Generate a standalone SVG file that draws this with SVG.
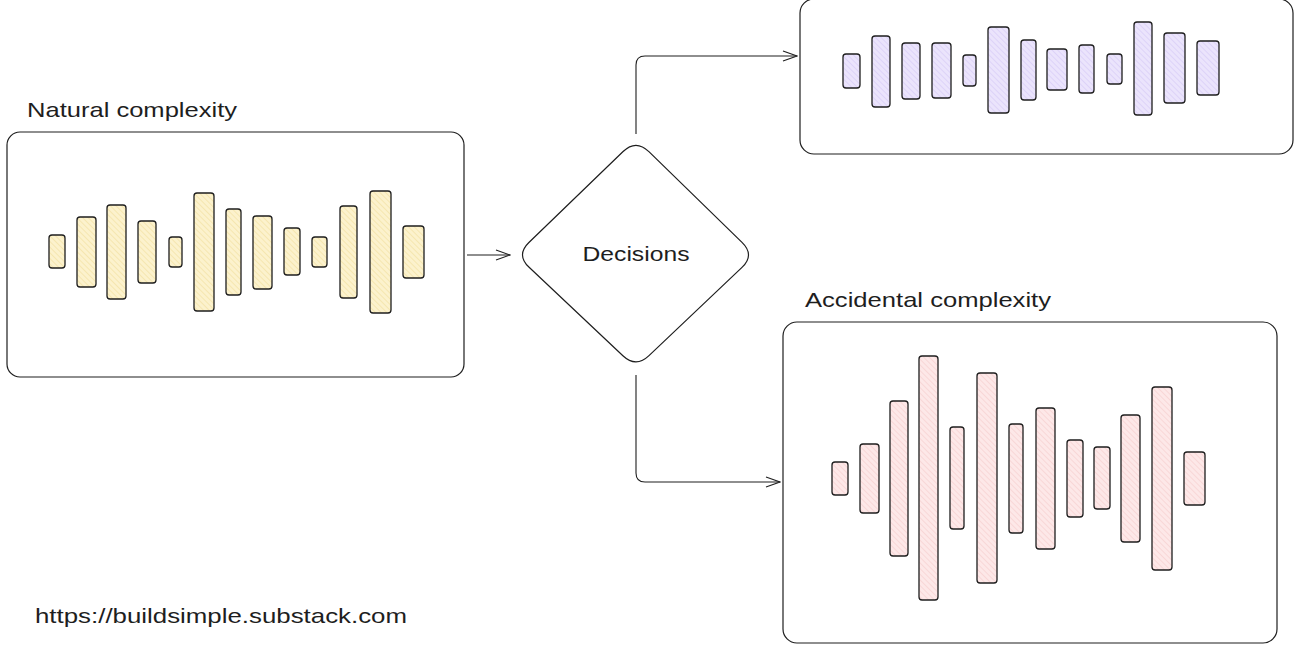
<svg xmlns="http://www.w3.org/2000/svg" width="1300" height="650" viewBox="0 0 1300 650">
<defs>
<pattern id="hy" width="4" height="4" patternUnits="userSpaceOnUse" patternTransform="rotate(-45)"><rect width="4" height="4" fill="#fcf2cd"/><line x1="0" y1="0" x2="0" y2="4" stroke="#f1df9c" stroke-width="1.2"/></pattern>
<pattern id="hp" width="4" height="4" patternUnits="userSpaceOnUse" patternTransform="rotate(-45)"><rect width="4" height="4" fill="#ebe4fc"/><line x1="0" y1="0" x2="0" y2="4" stroke="#d4c8f6" stroke-width="1.2"/></pattern>
<pattern id="hr" width="4" height="4" patternUnits="userSpaceOnUse" patternTransform="rotate(-45)"><rect width="4" height="4" fill="#fde8e8"/><line x1="0" y1="0" x2="0" y2="4" stroke="#f5cccc" stroke-width="1.2"/></pattern>
<marker id="arr" markerWidth="16" markerHeight="12" refX="15" refY="6" orient="auto" markerUnits="userSpaceOnUse"><path d="M1,1 L15,6 L1,11" fill="none" stroke="#1e1e1e" stroke-width="1.1"/></marker>
</defs>
<style>
.box{fill:#ffffff;stroke:#1e1e1e;stroke-width:1.2}
.bar{stroke:#1e1e1e;stroke-width:1.3}
.y{fill:url(#hy)}.p{fill:url(#hp)}.r{fill:url(#hr)}
.t{font-family:"Liberation Sans",Arial,sans-serif;font-size:21px;fill:#1e1e1e}
.con{fill:none;stroke:#1e1e1e;stroke-width:1.1}
</style>
<rect width="1300" height="650" fill="#ffffff"/>

<g id="natural">
<text class="t" x="27" y="117" textLength="210" lengthAdjust="spacingAndGlyphs">Natural complexity</text>
<rect class="box" x="7" y="132" width="457" height="245" rx="13"/>
<g class="bar y">
<rect x="49" y="235" width="16" height="33" rx="3"/>
<rect x="77" y="217" width="19" height="70" rx="3"/>
<rect x="107" y="205" width="19" height="94" rx="3"/>
<rect x="138" y="221" width="18" height="62" rx="3"/>
<rect x="169" y="237" width="13" height="30" rx="3"/>
<rect x="194" y="193" width="20" height="118" rx="3"/>
<rect x="226" y="209" width="15" height="86" rx="3"/>
<rect x="253" y="216" width="19" height="73" rx="3"/>
<rect x="284" y="228" width="16" height="47" rx="3"/>
<rect x="312" y="237" width="15" height="30" rx="3"/>
<rect x="340" y="206" width="17" height="92" rx="3"/>
<rect x="370" y="191" width="21" height="122" rx="3"/>
<rect x="403" y="226" width="21" height="52" rx="3"/>
</g>
</g>

<g id="decisions">
<path class="box" d="M648.9,151.6 L742,242.4 Q755,255 742,267.4 L649,355.6 Q636,368 622.9,355.7 L529.1,267.3 Q516,255 528.9,242.5 L623.1,151.5 Q636,139 648.9,151.6 Z"/>
<text class="t" x="636" y="261" text-anchor="middle" textLength="107" lengthAdjust="spacingAndGlyphs">Decisions</text>
</g>

<g id="simple">
<rect class="box" x="800" y="-1" width="493" height="155" rx="14"/>
<g class="bar p">
<rect x="843" y="54" width="17" height="34" rx="3"/>
<rect x="872" y="36" width="18" height="71" rx="3"/>
<rect x="902" y="43" width="18" height="56" rx="3"/>
<rect x="932" y="43" width="19" height="55" rx="3"/>
<rect x="963" y="55" width="13" height="31" rx="3"/>
<rect x="988" y="27" width="21" height="86" rx="3"/>
<rect x="1021" y="40" width="15" height="60" rx="3"/>
<rect x="1047" y="49" width="20" height="41" rx="3"/>
<rect x="1079" y="45" width="15" height="48" rx="3"/>
<rect x="1107" y="54" width="15" height="30" rx="3"/>
<rect x="1134" y="22" width="18" height="93" rx="3"/>
<rect x="1164" y="33" width="21" height="70" rx="3"/>
<rect x="1197" y="41" width="22" height="54" rx="3"/>
</g>
</g>

<g id="accidental">
<text class="t" x="805" y="307" textLength="246" lengthAdjust="spacingAndGlyphs">Accidental complexity</text>
<rect class="box" x="783" y="322" width="494" height="321" rx="14"/>
<g class="bar r">
<rect x="832" y="462" width="16" height="33" rx="3"/>
<rect x="860" y="444" width="19" height="69" rx="3"/>
<rect x="890" y="401" width="18" height="155" rx="3"/>
<rect x="919" y="356" width="19" height="244" rx="3"/>
<rect x="950" y="427" width="14" height="102" rx="3"/>
<rect x="977" y="373" width="20" height="210" rx="3"/>
<rect x="1009" y="424" width="14" height="109" rx="3"/>
<rect x="1036" y="408" width="19" height="141" rx="3"/>
<rect x="1067" y="440" width="16" height="77" rx="3"/>
<rect x="1094" y="447" width="16" height="62" rx="3"/>
<rect x="1121" y="415" width="19" height="127" rx="3"/>
<rect x="1152" y="387" width="20" height="183" rx="3"/>
<rect x="1184" y="452" width="21" height="53" rx="3"/>
</g>
</g>

<g id="connectors">
<path class="con" d="M467,255 L510,255" marker-end="url(#arr)"/>
<path class="con" d="M636,134 L636,65 Q636,56 645,56 L797,56" marker-end="url(#arr)"/>
<path class="con" d="M636,375 L636,473 Q636,482 645,482 L780,482" marker-end="url(#arr)"/>
</g>

<g id="url">
<text class="t" x="35" y="623" textLength="372" lengthAdjust="spacingAndGlyphs">https://buildsimple.substack.com</text>
</g>
</svg>
